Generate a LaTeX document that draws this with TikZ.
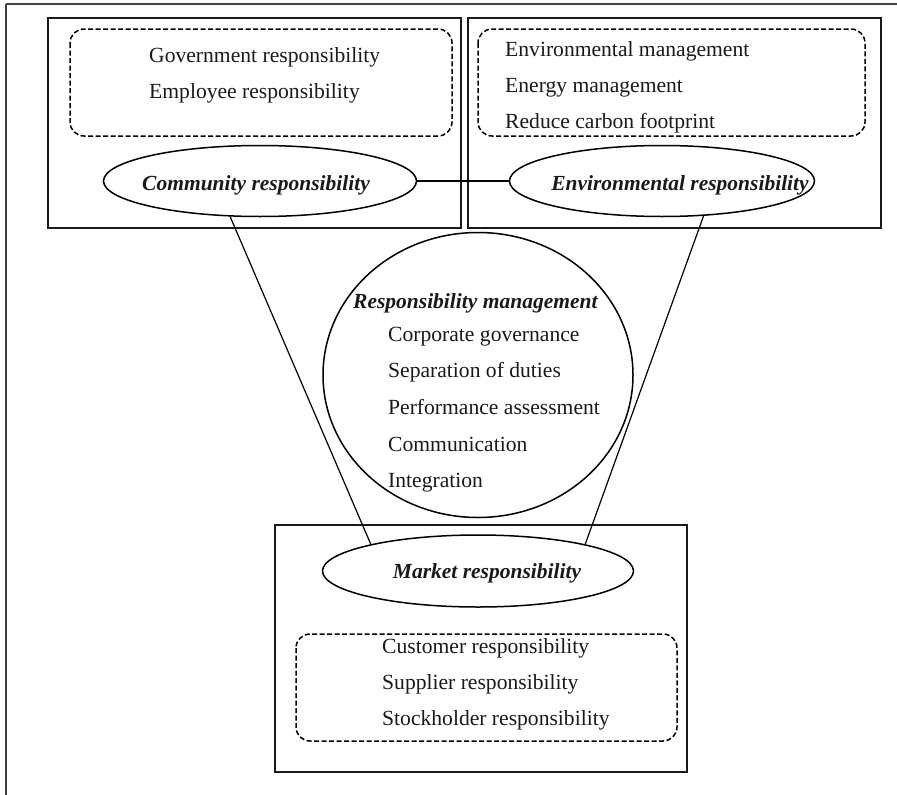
\documentclass[tikz,border=0pt]{standalone}
\usepackage{fontspec}
\setmainfont{Liberation Serif}
\usetikzlibrary{shapes.geometric}
\begin{document}
\begin{tikzpicture}[x=1pt,y=-1pt,
  frame/.style={line width=1.4pt,draw=black!75},
  boxs/.style={line width=1.3pt,draw=black!90},
  dbox/.style={line width=1.5pt,draw=black,dash pattern=on 5pt off 2.5pt,rounded corners=14pt},
  ell/.style={ellipse,draw=black,line width=1.5pt,inner sep=0pt},
  conn/.style={line width=1.2pt,draw=black},
  item/.style={anchor=base west,inner sep=0pt,text=black!90,font=\fontsize{21.6}{26}\selectfont},
  head/.style={inner sep=0pt,text=black!90,font=\fontsize{21.5}{26}\selectfont\bfseries\itshape}]
\useasboundingbox (0,0) rectangle (897,795);
% outer frame (top and left only)
\draw[frame] (6,4) -- (897,4);
\draw[frame] (6,4) -- (6,795);
% boxes
\draw[boxs] (48,18) rectangle (461,228);
\draw[boxs] (468,18) rectangle (881,228);
\draw[boxs] (275,525) rectangle (687,772);
% dashed boxes
\draw[dbox] (70,29) rectangle (452,136);
\draw[dbox] (478,29) rectangle (865,136);
\draw[dbox] (296,634) rectangle (677,741);
% ellipses
\node[ell,minimum width=313pt,minimum height=71pt] (comm) at (260,181) {};
\node[ell,minimum width=305pt,minimum height=71pt] (env) at (662,181) {};
\node[ell,minimum width=311pt,minimum height=72pt] (mkt) at (478,571) {};
\node[ell,minimum width=310pt,minimum height=285pt] (rm) at (478,375) {};
% ellipse labels
\node[head,anchor=base] (commt) at (256,190) {Community responsibility};
\node[head,anchor=base] (envt) at (680,190) {Environmental responsibility};
\node[head,anchor=base] (mktt) at (487,578) {Market responsibility};
\node[head,anchor=base west] (rmt) at (353,308) {Responsibility management};
% items
\node[item] (g1) at (149,62) {Government responsibility};
\node[item] (g2) at (149,98) {Employee responsibility};
\node[item] (e1) at (505,56) {Environmental management};
\node[item] (e2) at (505,92) {Energy management};
\node[item] (e3) at (505,128) {Reduce carbon footprint};
\node[item] (r1) at (388,341) {Corporate governance};
\node[item] (r2) at (388,377) {Separation of duties};
\node[item] (r3) at (388,414) {Performance assessment};
\node[item] (r4) at (388,451) {Communication};
\node[item] (r5) at (388,487) {Integration};
\node[item] (m1) at (382,653) {Customer responsibility};
\node[item] (m2) at (382,689) {Supplier responsibility};
\node[item] (m3) at (382,725) {Stockholder responsibility};
% connectors
\draw[conn] (comm.east) -- (env.west);
\draw[conn] (comm.230) -- (mkt.166);
\draw[conn] (env.320) -- (mkt.14);
\end{tikzpicture}
\end{document}
